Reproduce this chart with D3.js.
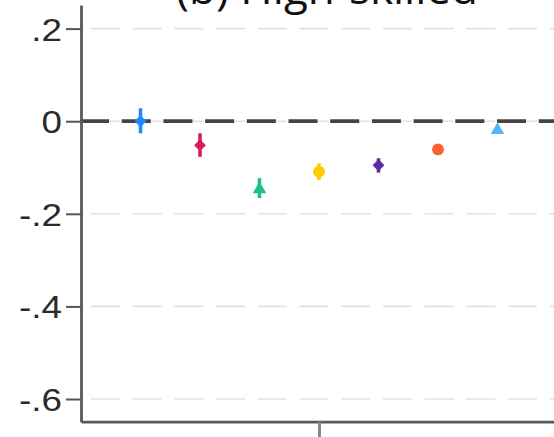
<!DOCTYPE html>
<html>
<head>
<meta charset="utf-8">
<script src="https://cdn.jsdelivr.net/npm/d3@7"></script>
<style>
  html, body { margin: 0; padding: 0; background: #fff; }
  svg { display: block; }
</style>
</head>
<body>
<svg id="chart" width="554" height="437"></svg>
<script>
// ---- data ----
const categories = ["1", "2", "3", "4", "5", "6", "7"];
const estimates  = [0.000, -0.052, -0.147, -0.109, -0.095, -0.061, -0.019];
const ciLow      = [-0.026, -0.077, -0.166, -0.127, -0.111, -0.070, -0.026];
const ciHigh     = [0.028, -0.026, -0.123, -0.091, -0.080, -0.052, -0.012];
const markerShapes = ["diamond", "diamond", "triangle", "circle", "diamond", "circle", "triangle"];
const markerColors = ["#1f8bff", "#d81b60", "#1fbf8a", "#ffcc00", "#5b2da0", "#ff6030", "#55b6f5"];
const yTicks = [0.2, 0, -0.2, -0.4, -0.6];
const yTickLabels = [".2", "0", "-.2", "-.4", "-.6"];
const xTicks = [4];
const titleText = "(b) High-skilled";

// ---- layout ----
const svg = d3.select("#chart");
const x = d3.scaleLinear().domain([0, 8]).range([81, 557]);
const y = d3.scaleLinear().domain([-0.649, 0.251]).range([421.7, 5]);

// gridlines
svg.append("g").selectAll("line").data(yTicks).join("line")
  .attr("x1", 81).attr("x2", 554)
  .attr("y1", d => y(d)).attr("y2", d => y(d))
  .attr("stroke", "#e2e2e2").attr("stroke-width", 1.6)
  .attr("stroke-dasharray", "29 12.7")
  .attr("stroke-dashoffset", -10);

// zero line
svg.append("line")
  .attr("x1", 80).attr("x2", 554)
  .attr("y1", y(0)).attr("y2", y(0))
  .attr("stroke", "#444").attr("stroke-width", 3.8)
  .attr("stroke-dasharray", "29 12.7");

// y axis
const yAxis = d3.axisLeft(y).tickValues(yTicks)
  .tickFormat((d, i) => yTickLabels[i]).tickSize(15).tickSizeOuter(0).tickPadding(5);
const gy = svg.append("g").attr("transform", "translate(81,0)").call(yAxis);
gy.select(".domain").attr("stroke", "#5a5a5a").attr("stroke-width", 2.8);
gy.selectAll(".tick line").attr("stroke", "#555").attr("stroke-width", 2);
gy.selectAll(".tick text")
  .attr("font-family", "Liberation Sans, Arial, sans-serif")
  .attr("font-size", 32).attr("fill", "#2a2a2a").attr("dy", "0.36em")
  .attr("x", 0)
  .attr("transform", "translate(-19,0) scale(1.15,1)");

// x axis
const xAxis = d3.axisBottom(x).tickValues(xTicks).tickFormat("").tickSize(16).tickSizeOuter(0);
const gx = svg.append("g").attr("transform", "translate(0,421.7)").call(xAxis);
gx.select(".domain").attr("stroke", "#5a5a5a").attr("stroke-width", 2.8);
gx.selectAll(".tick line").attr("stroke", "#888").attr("stroke-width", 3);

// error bars
const idx = d3.range(categories.length);
svg.append("g").selectAll("line").data(idx).join("line")
  .attr("x1", i => x(i + 1)).attr("x2", i => x(i + 1))
  .attr("y1", i => y(ciLow[i])).attr("y2", i => y(ciHigh[i]))
  .attr("stroke", i => markerColors[i]).attr("stroke-width", 3.6);

// markers
const symMap = { diamond: d3.symbolDiamond2, triangle: d3.symbolTriangle, circle: d3.symbolCircle };
const sizeMap = { diamond: 90, triangle: 80, circle: 110 };
svg.append("g").selectAll("path").data(idx).join("path")
  .attr("transform", i => `translate(${x(i + 1)},${y(estimates[i])})`)
  .attr("d", i => d3.symbol().type(symMap[markerShapes[i]]).size(sizeMap[markerShapes[i]])())
  .attr("fill", i => markerColors[i]);

// title
svg.append("text")
  .attr("x", 327).attr("y", 4)
  .attr("text-anchor", "middle")
  .attr("font-family", "Open Sans, sans-serif")
  .attr("font-size", 44).attr("fill", "#111")
  .text(titleText);
</script>
</body>
</html>
